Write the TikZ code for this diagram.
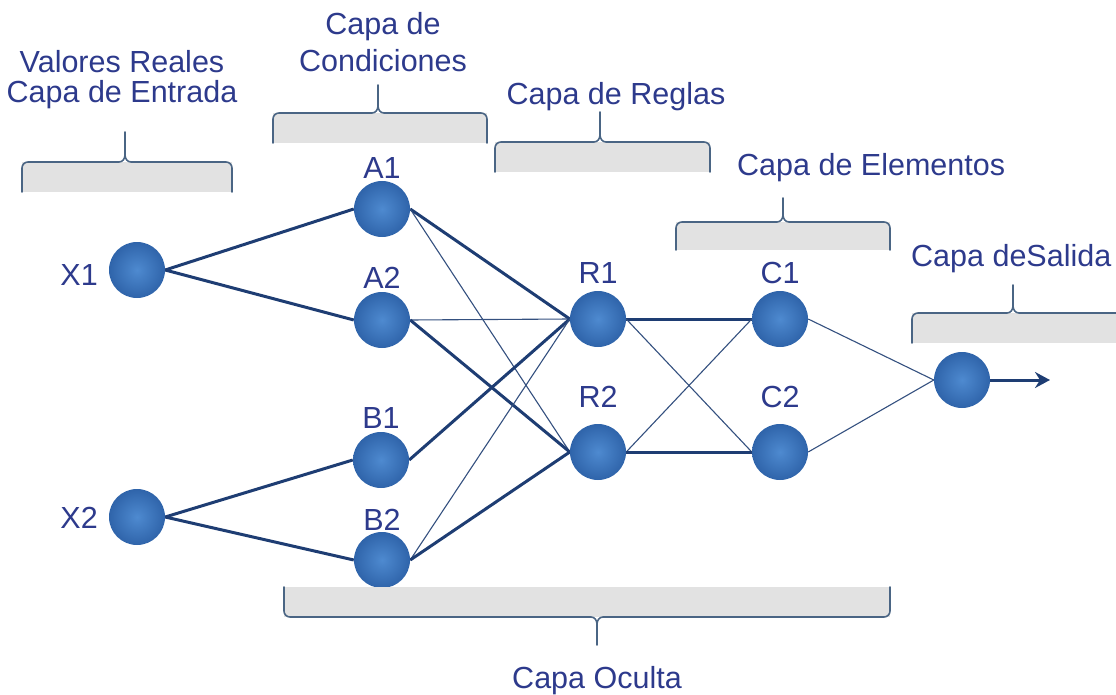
\documentclass[tikz,border=0pt]{standalone}
\usepackage{fontspec}
\setmainfont{Liberation Sans}
\usetikzlibrary{arrows.meta,backgrounds}
\definecolor{txt}{HTML}{2D3A8C}
\definecolor{edgec}{HTML}{1E3D73}
\definecolor{thinc}{HTML}{34507F}
\definecolor{brc}{HTML}{4A6584}
\definecolor{rectc}{HTML}{E2E2E2}
\definecolor{nin}{HTML}{4E8AD0}
\definecolor{nout}{HTML}{2F64AA}
\newcommand\upbr[6]{% L R top bot cx tip
  \fill[rectc] (#1,#3) rectangle (#2,#4);
  \draw[br] (#1,#4) -- (#1,#3+6) to[out=90,in=180] (#1+6,#3) -- (#5-6,#3) to[out=0,in=-90] (#5,#3-7) -- (#5,#6);
  \draw[br] (#2,#4) -- (#2,#3+6) to[out=90,in=0] (#2-6,#3) -- (#5+6,#3) to[out=180,in=-90] (#5,#3-7);
}
\tikzset{
  neuron/.style={circle,minimum size=56pt,inner sep=0pt,shading=radial,inner color=nin,outer color=nout},
  lbl/.style={font=\fontsize{30.5}{36}\selectfont,text=txt,inner sep=0pt},
  thk/.style={draw=edgec,line width=3pt},
  thn/.style={draw=thinc,line width=1.1pt},
  br/.style={draw=brc,line width=1.6pt,line cap=round},
}
\begin{document}
\begin{tikzpicture}[x=1pt,y=-1pt]
\useasboundingbox (0,0) rectangle (1116,695);
% top braces
\upbr{22}{232}{162}{192}{125}{132}
\upbr{273}{487}{113}{143}{378}{85}
\upbr{495}{710}{142}{172}{600}{112}
\upbr{676}{890}{222}{250}{783}{198}
\fill[rectc] (912,313) rectangle (1116,343);
\draw[br] (912,343) -- (912,319) to[out=90,in=180] (918,313) -- (1007,313) to[out=0,in=-90] (1013,306) -- (1013,285);
\draw[br] (1116,313) -- (1019,313) to[out=180,in=-90] (1013,306);
% titles
\node[lbl,anchor=base] (t1a) at (122,73) {Valores Reales};
\node[lbl,anchor=base] (t1b) at (122,103) {Capa de Entrada};
\node[lbl,anchor=base] (t2a) at (383,35) {Capa de};
\node[lbl,anchor=base] (t2b) at (383,72) {Condiciones};
\node[lbl,anchor=base] (t3) at (616,105) {Capa de Reglas};
\node[lbl,anchor=base west] (t4) at (737,176) {Capa de Elementos};
\node[lbl,anchor=base west] (t5) at (911,266) {Capa deSalida};
\node[lbl,anchor=base] (t6) at (597,688) {Capa Oculta};
% neurons
\node[neuron] (X1) at (137,270) {};
\node[neuron] (X2) at (137,517) {};
\node[neuron] (A1) at (382,209) {};
\node[neuron] (A2) at (382,320) {};
\node[neuron] (B1) at (381,460) {};
\node[neuron] (B2) at (382,560) {};
\node[neuron] (R1) at (598,319) {};
\node[neuron] (R2) at (598,452) {};
\node[neuron] (C1) at (780,319) {};
\node[neuron] (C2) at (780,452) {};
\node[neuron] (O) at (962,380) {};
\coordinate (out) at (1050,380);
% labels
\node[lbl,anchor=base east] (lX1) at (98,285) {X1};
\node[lbl,anchor=base east] (lX2) at (98,528) {X2};
\node[lbl,anchor=base] (lA1) at (382,179) {A1};
\node[lbl,anchor=base] (lA2) at (382,288) {A2};
\node[lbl,anchor=base] (lB1) at (381,428) {B1};
\node[lbl,anchor=base] (lB2) at (382,530) {B2};
\node[lbl,anchor=base] (lR1) at (598,283) {R1};
\node[lbl,anchor=base] (lR2) at (598,407) {R2};
\node[lbl,anchor=base] (lC1) at (780,283) {C1};
\node[lbl,anchor=base] (lC2) at (780,407) {C2};
% connectors
\begin{scope}[on background layer]
\draw[thk] (X1.east) -- (A1.west);
\draw[thk] (X1.east) -- (A2.west);
\draw[thk] (X2.east) -- (B1.west);
\draw[thk] (X2.east) -- (B2.west);
\draw[thk] (A1.east) -- (R1.west);
\draw[thn] (A1.east) -- (R2.west);
\draw[thn] (A2.east) -- (R1.west);
\draw[thk] (A2.east) -- (R2.west);
\draw[thk] (B1.east) -- (R1.west);
\draw[thn] (B2.east) -- (R1.west);
\draw[thk] (B2.east) -- (R2.west);
\draw[thk] (R1.east) -- (C1.west);
\draw[thn] (R1.east) -- (C2.west);
\draw[thn] (R2.east) -- (C1.west);
\draw[thk] (R2.east) -- (C2.west);
\draw[thn] (C1.east) -- (O.west);
\draw[thn] (C2.east) -- (O.west);
\end{scope}
\draw[thk,-{Stealth[length=15pt,width=16pt,inset=5pt]}] (O.east) -- (out);
% bottom brace (over B2)
\fill[rectc] (284,587) rectangle (890,617);
\draw[br] (284,587) -- (284,611) to[out=-90,in=180] (290,617) -- (591,617) to[out=0,in=90] (597,624) -- (597,645);
\draw[br] (890,587) -- (890,611) to[out=-90,in=0] (884,617) -- (603,617) to[out=180,in=90] (597,624);
\end{tikzpicture}
\end{document}
